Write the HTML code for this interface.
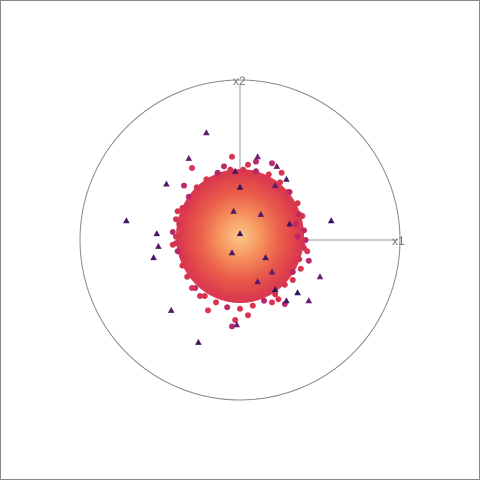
<!DOCTYPE html>
<html><head><meta charset="utf-8"><style>
html,body{margin:0;padding:0;background:#fff}
svg{display:block;font-family:"Liberation Sans",sans-serif}
</style></head><body>
<svg id="chart" width="480" height="480" viewBox="0 0 480 480">
<defs>
<radialGradient id="core" cx="50%" cy="50%" r="50%">
<stop offset="0" stop-color="#fcc98a"/>
<stop offset="0.35" stop-color="#f6955f"/>
<stop offset="0.7" stop-color="#ea5e4a"/>
<stop offset="1" stop-color="#dd3d4c"/>
</radialGradient>
</defs>
<rect x="0.5" y="0.5" width="479" height="479" fill="#fff" stroke="#888"/>
<circle cx="240" cy="240" r="160" fill="none" stroke="#888" stroke-width="1"/>
<line x1="240" y1="240" x2="398" y2="240" stroke="#aaa" stroke-width="1.2"/>
<line x1="240" y1="240" x2="240" y2="84" stroke="#aaa" stroke-width="1.2"/>
<g id="cloud">
<ellipse cx="240" cy="236" rx="64" ry="67" fill="#dc3a4e"/>
<ellipse cx="240" cy="236" rx="58" ry="61" fill="url(#core)"/>
</g>
<g id="dots"></g>
<g id="tris"></g>
<text x="392" y="245" font-size="12" fill="#777">x1</text>
<text x="233" y="85" font-size="12" fill="#777">x2</text>
</svg>
<script>
const dotX = [-0.35,-0.39,-0.3,-0.42,-0.36,-0.4,0.36,0.4,0.42,0.43,0.38,0.33,0.37,0.3,0.26,0.2,-0.05,-0.03,-0.05,0.05,0.2,0.28,-0.25,-0.33,0.1,-0.2,-0.14,0.35,
 -0.38,-0.4,-0.39,-0.36,-0.33,-0.28,-0.22,-0.15,-0.08,0.0,0.08,0.15,0.22,0.28,0.33,0.37,0.39,0.4,0.39,0.36,0.31,0.25,0.18,0.1,0.02,-0.06,-0.14,-0.21,-0.27,-0.32,-0.36,-0.4,0.41,-0.42,0.05,-0.1,0.24,-0.3];
const dotY = [0.34,0.18,0.45,0.05,-0.1,-0.02,0.02,-0.05,-0.07,-0.13,-0.18,-0.25,0.16,0.3,0.42,0.48,0.52,-0.5,-0.54,-0.47,-0.39,-0.4,-0.35,0.22,0.49,-0.44,0.41,0.1,
 0.1,0.02,-0.07,-0.16,-0.23,-0.3,-0.35,-0.39,-0.42,-0.43,-0.41,-0.38,-0.34,-0.28,-0.2,-0.12,-0.03,0.06,0.15,0.23,0.3,0.36,0.41,0.43,0.44,0.44,0.42,0.38,0.33,0.27,0.2,0.13,0.0,-0.03,0.47,0.46,-0.37,-0.3];
const triX = [-0.21,-0.32,-0.46,-0.71,-0.52,-0.51,-0.54,-0.43,-0.26,-0.02,0.0,-0.03,0.11,0.23,0.57,0.5,0.43,0.22,0.29,0.16,-0.05,0.0,-0.04,0.13,0.31,0.22,0.29,0.36,0.11,0.2];
const triY = [0.67,0.51,0.35,0.12,0.04,-0.04,-0.11,-0.44,-0.64,-0.53,0.33,0.43,0.52,0.46,0.12,-0.23,-0.38,-0.31,-0.38,-0.11,-0.08,0.04,0.18,0.16,0.1,0.34,0.38,-0.33,-0.26,-0.2];
const triShade = [0.5,0.6,0.4,0.2,0.3,0.4,0.3,0.4,0.2,0.6,0.1,0.3,0.7,0.6,0.1,0.6,0.6,0.1,0.3,0.2,0.3,0.1,0.3,0.4,0.2,0.5,0.3,0.0,0.4,0.5];
const cx = 240, cy = 240, R = 160;
function sx(v){return cx + v*R;}
function sy(v){return cy - v*R;}
const ns = "http://www.w3.org/2000/svg";
const dg = document.getElementById('dots');
for (let i=0;i<dotX.length;i++){
  const c = document.createElementNS(ns,'circle');
  
  
  c.setAttribute('cx', sx(dotX[i])); c.setAttribute('cy', sy(dotY[i]));
  c.setAttribute('r', 3); c.setAttribute('fill', i%3===0 ? '#b8286a' : '#d6344f');
  dg.appendChild(c);
}
const tg = document.getElementById('tris');
function shade(t){
  const a=[45,17,96], b=[140,40,120];
  return 'rgb('+a.map((v,k)=>Math.round(v+(b[k]-v)*t)).join(',')+')';
}
for (let i=0;i<triX.length;i++){
  const x=sx(triX[i]), y=sy(triY[i]);
  const p = document.createElementNS(ns,'polygon');
  
  
  p.setAttribute('points', (x)+','+(y-3.5)+' '+(x-3.3)+','+(y+2.5)+' '+(x+3.3)+','+(y+2.5));
  p.setAttribute('fill', shade(triShade[i]));
  tg.appendChild(p);
}
</script>
</body></html>
